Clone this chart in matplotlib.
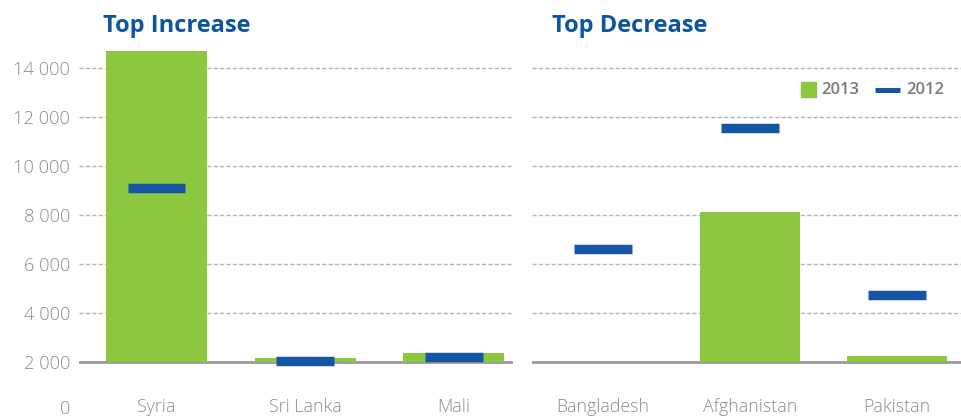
import matplotlib
matplotlib.use("Agg")
import matplotlib.pyplot as plt
from matplotlib.patches import Rectangle
from matplotlib.lines import Line2D
from matplotlib.transforms import ScaledTranslation
import numpy as np

# Refugee arrivals by country of origin
inc_countries = ["Syria", "Sri Lanka", "Mali"]
inc_2013 = [14700, 2150, 2370]
inc_2012 = [9090, 2030, 2180]

dec_countries = ["Bangladesh", "Afghanistan", "Pakistan"]
dec_2013 = [1900, 8120, 2230]
dec_2012 = [6620, 11560, 4730]

y_ticks = [0, 2000, 4000, 6000, 8000, 10000, 12000, 14000]
baseline = 2000

GREEN = "#8dc63f"
BLUE = "#1455a4"
TITLE_BLUE = "#0e55a0"
GREY_TXT = "#8c8c8c"
GRID = "#b4b4b4"
SPINE = "#9a9a9a"

plt.rcParams["font.family"] = ["Open Sans", "DejaVu Sans"]

W, H = 962, 416
fig = plt.figure(figsize=(W / 100, H / 100), dpi=100)

ymax = 16000
px_per_unit = 24.45 / 1000
ax_h = ymax * px_per_unit
ax_bottom = (H - 410.5) / H

ax1 = fig.add_axes([79 / W, ax_bottom, 434 / W, ax_h / H])
ax2 = fig.add_axes([532 / W, ax_bottom, 430 / W, ax_h / H])

lift = ScaledTranslation(0, 4 / 100, fig.dpi_scale_trans)


def fmt(v):
    return f"{v:,}".replace(",", " ")


def draw_panel(ax, cats, v13, v12, xlim, show_y):
    x = np.arange(len(cats))
    ax.set_xlim(*xlim)
    ax.set_ylim(0, ymax)
    for s in ax.spines.values():
        s.set_visible(False)
    ax.set_xticks([])
    for t in y_ticks:
        if t > baseline:
            ax.axhline(t, color=GRID, lw=1.0, ls=(0, (3, 1.6)), zorder=1)
    ax.axhline(baseline, color=SPINE, lw=2.0, zorder=2)
    heights = np.maximum(np.array(v13) - baseline, 0)
    ax.bar(x, heights, bottom=baseline, width=0.68, color=GREEN, zorder=3)
    ax.hlines(v12, x - 0.195, x + 0.195, color=BLUE, lw=6.8, zorder=4,
              capstyle="butt")
    for xi, c in zip(x, cats):
        ax.text(xi, 0, c, ha="center", va="center", fontsize=12.8,
                color=GREY_TXT, fontweight="light",
                transform=ax.transData + lift)
    if show_y:
        ax.set_yticks(y_ticks)
        ax.set_yticklabels([fmt(t) for t in y_ticks], fontsize=13.2,
                           color=GREY_TXT, fontweight="light")
        ax.tick_params(axis="y", length=0, pad=6.5)
        zero_lbl = ax.get_yticklabels()[0]
        zero_lbl.set_transform(zero_lbl.get_transform() + lift)
    else:
        ax.set_yticks([])


draw_panel(ax1, inc_countries, inc_2013, inc_2012, (-0.522, 2.40), True)
draw_panel(ax2, dec_countries, dec_2013, dec_2012, (-0.483, 2.442), False)

fig.text(103 / W, (H - 31.5) / H, "Top Increase", fontsize=17, fontweight="bold",
         color=TITLE_BLUE, va="baseline", ha="left")
fig.text(552 / W, (H - 31.5) / H, "Top Decrease", fontsize=17, fontweight="bold",
         color=TITLE_BLUE, va="baseline", ha="left")

# legend
ly = (H - 89.5) / H
fig.add_artist(Rectangle((801 / W, (H - 96.5) / H), 15 / W, 15 / H,
                         transform=fig.transFigure, color=GREEN))
fig.text(821 / W, ly, "2013", fontsize=12, color="#7a7a7a", fontweight="semibold",
         va="center", ha="left")
fig.add_artist(Line2D([875 / W, 900 / W], [ly, ly], transform=fig.transFigure,
                      color=BLUE, lw=3.6, solid_capstyle="butt"))
fig.text(906 / W, ly, "2012", fontsize=12, color="#7a7a7a", fontweight="semibold",
         va="center", ha="left")

fig.savefig("out.png", dpi=100)
